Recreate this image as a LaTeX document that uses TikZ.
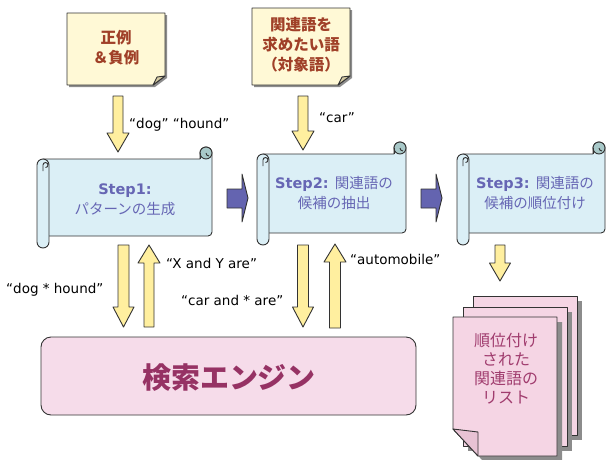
\documentclass[tikz,border=0pt]{standalone}
\usepackage{fontspec}
\setmainfont{DejaVu Sans}
\newfontfamily\jp{Noto Sans CJK JP}
\definecolor{bordc}{HTML}{333333}
\definecolor{notefill}{HTML}{FFF9D6}
\definecolor{notefold}{HTML}{D6CCA4}
\definecolor{notetext}{HTML}{A04028}
\definecolor{yfill}{HTML}{FFEF9F}
\definecolor{scrollfill}{HTML}{DBEFF6}
\definecolor{curlfill}{HTML}{A8C8C8}
\definecolor{steptext}{HTML}{6666B4}
\definecolor{pfill}{HTML}{6464B0}
\definecolor{engfill}{HTML}{F6DCEA}
\definecolor{engtext}{HTML}{963264}
\definecolor{docfill}{HTML}{F5D5E4}
\definecolor{docfold}{HTML}{E8C2D4}
\definecolor{doctext}{HTML}{A03C6E}
\definecolor{shadowc}{HTML}{8C8C8C}
\tikzset{
  ln/.style={draw=bordc, line width=0.9pt, line join=round},
  yarrow/.style={ln, fill=yfill},
  parrow/.style={ln, fill=pfill},
  scrollbody/.style={ln, fill=scrollfill},
  curl/.style={ln, fill=curlfill},
  notebox/.style={ln, fill=notefill},
  docpage/.style={ln, fill=docfill},
  shade/.style={fill=shadowc, draw=none},
  lbl/.style={anchor=west, inner sep=0pt, font=\fontsize{13.5}{16}\selectfont},
  steplbl/.style={align=center, inner sep=0pt, text=steptext, font=\fontsize{14.5}{20}\selectfont},
  notelbl/.style={align=center, inner sep=0pt, text=notetext, font=\fontsize{15.5}{20}\selectfont\jp\bfseries},
}
% scroll: L, T, R, B
\newcommand\myscroll[4]{%
  \filldraw[scrollbody] ({#1+6},{#2+12}) -- ({#3-12},{#2+12}) -- ({#3-12},{#2+6})
     arc[start angle=180,end angle=0,radius=6pt] -- ({#3},{#4-16})
     arc[start angle=0,end angle=-90,radius=4pt] -- ({#1+6},{#4-12}) -- cycle;
  \filldraw[curl] ({#3-6},{#2+6}) circle[radius=6pt];
  \draw[ln] ({#3-6},{#2+6}) arc[start angle=180,end angle=270,radius=3pt];
  \draw[ln] ({#3-12},{#2+6}) -- ({#3-12},{#2+12});
  \filldraw[scrollbody] ({#1},{#2+18}) -- ({#1},{#4-6})
     arc[start angle=180,end angle=360,radius=6pt] -- ({#1+12},{#2+18})
     arc[start angle=0,end angle=180,radius=6pt] -- cycle;
  \draw[ln] ({#1+6},{#2+24}) -- ({#1+6},{#2+18}) arc[start angle=180,end angle=0,radius=2.5pt]
     arc[start angle=0,end angle=-90,radius=2.5pt];
}
% down arrow: cx, top, tip, shaft half, head half, head length
\newcommand\darrow[6]{%
  \filldraw[yarrow] ({#1-#4},#2) -- ({#1+#4},#2) -- ({#1+#4},{#3-#6}) -- ({#1+#5},{#3-#6})
    -- (#1,#3) -- ({#1-#5},{#3-#6}) -- ({#1-#4},{#3-#6}) -- cycle;}
% up arrow: cx, bottom, tip, shaft half, head half, head length
\newcommand\uarrow[6]{%
  \filldraw[yarrow] ({#1-#4},#2) -- ({#1+#4},#2) -- ({#1+#4},{#3+#6}) -- ({#1+#5},{#3+#6})
    -- (#1,#3) -- ({#1-#5},{#3+#6}) -- ({#1-#4},{#3+#6}) -- cycle;}
% right arrow: x0 (shaft start)
\newcommand\rarrow[1]{%
  \filldraw[parrow] (#1,189) -- ({#1+15},189) -- ({#1+15},174) -- ({#1+21},198)
    -- ({#1+15},222) -- ({#1+15},208) -- (#1,208) -- cycle;}
% note: L, T, R, B
\newcommand\mynote[4]{%
  \fill[shade] ({#1+2},{#2+2}) -- ({#3+2},{#2+2}) -- ({#3+2},{#4-7}) -- ({#3-10},{#4+2}) -- ({#1+2},{#4+2}) -- cycle;
  \filldraw[notebox] (#1,#2) -- (#3,#2) -- (#3,{#4-9}) -- ({#3-12},#4) -- (#1,#4) -- cycle;
  \filldraw[ln, fill=notefold] ({#3-12},#4) -- ({#3-8},{#4-8}) -- (#3,{#4-9}) -- cycle;
}
% doc page: L, T
\newcommand\mypage[2]{%
  \fill[shade] ({#1+5},{#2+5}) rectangle ({#1+109},{#2+144});
  \filldraw[docpage] (#1,#2) rectangle ({#1+104},{#2+139});
}
\begin{document}
\begin{tikzpicture}[x=1pt,y=-1pt]
\useasboundingbox (0,0) rectangle (606,459);

% notes
\mynote{67}{13}{165}{85}
\node[notelbl] (n1) at (116,48) {正例\\＆負例};
\mynote{252}{8}{350}{85}
\node[notelbl] (n2) at (301,45) {関連語を\\求めたい語\\（対象語）};

% arrows into scrolls
\darrow{118}{96}{152}{5}{11}{19}
\darrow{303}{96}{150}{5}{11}{19}
\node[lbl] (l1) at (129,125) {“dog” “hound”};
\node[lbl] (l2) at (319,118) {“car”};

% scrolls
\myscroll{37}{147}{212}{248}
\myscroll{257}{142}{406}{245}
\myscroll{457}{142}{605}{245}
\node[steplbl] (s1) at (125,200) {\bfseries Step1:\\{\jp パターンの生成}};
\node[steplbl] (s2) at (334,193) {{\bfseries Step2:} {\jp 関連語の}\\{\jp 候補の抽出}};
\node[steplbl] (s3) at (535,193) {{\bfseries Step3:} {\jp 関連語の}\\{\jp 候補の順位付け}};

% purple arrows
\rarrow{227}
\rarrow{421}

% arrows to/from engine
\darrow{123.5}{245}{327}{5.5}{10.5}{20}
\uarrow{149}{327}{245}{5}{11}{18}
\darrow{303}{245}{327}{5.5}{10.5}{20}
\uarrow{335}{328}{244}{5.5}{11}{18}
\node[lbl] (l3) at (166,263) {“X and Y are”};
\node[lbl] (l4) at (6,290) {“dog * hound”};
\node[lbl] (l5) at (181,300) {“car and * are”};
\node[lbl] (l6) at (350,259) {“automobile”};

% search engine
\node[ln, fill=engfill, rounded corners=10pt, minimum width=375pt, minimum height=78pt, inner sep=0pt] (eng) at (228.5,376) {};
\node[text=engtext, font=\fontsize{29}{32}\selectfont\jp\bfseries] (engt) at (229,378) {検索エンジン};

% arrow to documents
\darrow{500}{245}{281}{5}{10.5}{18}

% documents
\mypage{473}{296}
\mypage{463}{307}
\fill[shade] (458,322) -- (562,322) -- (562,461) -- (483,461) -- (458,434) -- cycle;
\filldraw[docpage] (453,317) -- (557,317) -- (557,456) -- (478,456) -- (453,429) -- cycle;
\filldraw[ln, fill=docfold] (453,429) -- (478,432) -- (478,456) -- cycle;
\node[align=center, inner sep=0pt, text=doctext, font=\fontsize{16}{19}\selectfont\jp] (doct) at (506,369) {順位付け\\された\\関連語の\\リスト};
\end{tikzpicture}
\end{document}
